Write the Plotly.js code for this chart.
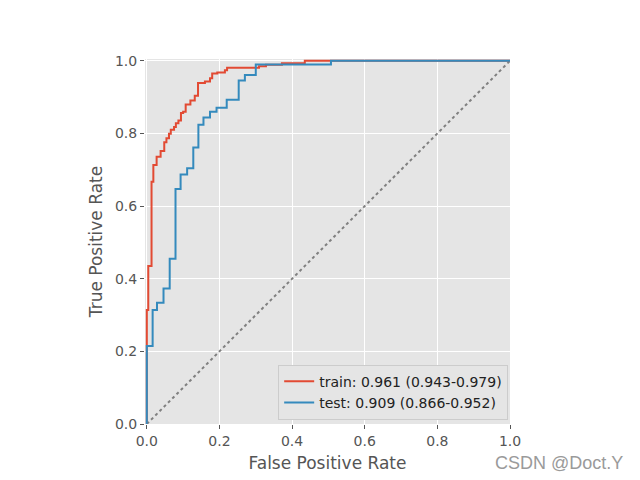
<!DOCTYPE html>
<html>
<head>
<meta charset="utf-8">
<script src="https://cdn.plot.ly/plotly-3.0.1.min.js"></script>
<style>html,body{margin:0;padding:0;background:#fff;}</style>
</head>
<body>
<div id="chart" style="width:640px;height:480px;"></div>
<script>
// Train ROC corner points
const trainFpr = [0, 0, 0.004, 0.004, 0.013, 0.013, 0.018, 0.018, 0.027, 0.027, 0.038, 0.038, 0.048, 0.048, 0.054, 0.054, 0.061, 0.061, 0.066, 0.066, 0.075, 0.075, 0.080, 0.080, 0.087, 0.087, 0.094, 0.094, 0.100, 0.100, 0.107, 0.107, 0.120, 0.120, 0.132, 0.132, 0.141, 0.141, 0.160, 0.160, 0.174, 0.174, 0.180, 0.180, 0.194, 0.194, 0.215, 0.215, 0.221, 0.221, 0.309, 0.309, 0.328, 0.328, 0.372, 0.372, 0.435, 0.435, 1.0];
const trainTpr = [0, 0.314, 0.314, 0.435, 0.435, 0.667, 0.667, 0.713, 0.713, 0.736, 0.736, 0.752, 0.752, 0.776, 0.776, 0.787, 0.787, 0.799, 0.799, 0.810, 0.810, 0.818, 0.818, 0.828, 0.828, 0.836, 0.836, 0.856, 0.856, 0.860, 0.860, 0.880, 0.880, 0.891, 0.891, 0.904, 0.904, 0.939, 0.939, 0.943, 0.943, 0.952, 0.952, 0.965, 0.965, 0.968, 0.968, 0.974, 0.974, 0.981, 0.981, 0.985, 0.985, 0.989, 0.989, 0.993, 0.993, 1.0, 1.0];
// Test ROC corner points
const testFpr = [0, 0, 0.016, 0.016, 0.028, 0.028, 0.046, 0.046, 0.063, 0.063, 0.079, 0.079, 0.093, 0.093, 0.111, 0.111, 0.128, 0.128, 0.142, 0.142, 0.156, 0.156, 0.174, 0.174, 0.192, 0.192, 0.220, 0.220, 0.253, 0.253, 0.270, 0.270, 0.300, 0.300, 0.507, 0.507, 1.0];
const testTpr = [0, 0.215, 0.215, 0.314, 0.314, 0.334, 0.334, 0.373, 0.373, 0.455, 0.455, 0.647, 0.647, 0.687, 0.687, 0.704, 0.704, 0.761, 0.761, 0.824, 0.824, 0.844, 0.844, 0.860, 0.860, 0.871, 0.871, 0.893, 0.893, 0.946, 0.946, 0.961, 0.961, 0.990, 0.990, 1.0, 1.0];
const diagX = [0, 1];
const diagY = [0, 1];
const seriesNames = ["train: 0.961 (0.943-0.979)", "test: 0.909 (0.866-0.952)"];
const tickVals = [0, 0.2, 0.4, 0.6, 0.8, 1.0];
const tickText = ["0.0", "0.2", "0.4", "0.6", "0.8", "1.0"];

const traces = [
  {x: diagX, y: diagY, mode: "lines", line: {color: "#808080", width: 2, dash: "dot"}, showlegend: false, hoverinfo: "skip"},
  {x: trainFpr, y: trainTpr, mode: "lines", name: seriesNames[0], line: {color: "#E24A33", width: 2}},
  {x: testFpr, y: testTpr, mode: "lines", name: seriesNames[1], line: {color: "#348ABD", width: 2}}
];

const axisCommon = {
  showgrid: true, gridcolor: "#ffffff", gridwidth: 1,
  zeroline: false, showline: false,
  ticks: "outside", ticklen: 4, tickwidth: 1, tickcolor: "#555555",
  tickvals: tickVals, ticktext: tickText,
  tickfont: {family: "DejaVu Sans", size: 14, color: "#555555"}
};

const layout = {
  width: 640, height: 480,
  margin: {l: 145, r: 130, t: 59, b: 56},
  paper_bgcolor: "#ffffff",
  plot_bgcolor: "#E5E5E5",
  font: {family: "DejaVu Sans", color: "#555555"},
  xaxis: Object.assign({}, axisCommon, {
    range: [-0.005, 1.0],
    title: {text: "False Positive Rate", font: {family: "DejaVu Sans", size: 17, color: "#555555"}, standoff: 9}
  }),
  yaxis: Object.assign({}, axisCommon, {
    range: [0, 1.005],
    title: {text: "True Positive Rate", font: {family: "DejaVu Sans", size: 17, color: "#555555"}, standoff: 7}
  }),
  legend: {
    x: 0.995, xanchor: "right", y: 0.012, yanchor: "bottom",
    bgcolor: "#E5E5E5", bordercolor: "#CCCCCC", borderwidth: 1,
    font: {family: "DejaVu Sans", size: 14, color: "#222222"},
    itemwidth: 30,
    tracegroupgap: 0
  },
  annotations: [{
    text: "CSDN @Doct.Y", xref: "paper", yref: "paper",
    x: 1.135, y: -0.107, xanchor: "center", yanchor: "middle",
    showarrow: false,
    font: {family: "Liberation Sans", size: 18, color: "#9a9a9a"}
  }],
  showlegend: true
};

Plotly.newPlot("chart", traces, layout, {staticPlot: true, displayModeBar: false});
</script>
</body>
</html>
